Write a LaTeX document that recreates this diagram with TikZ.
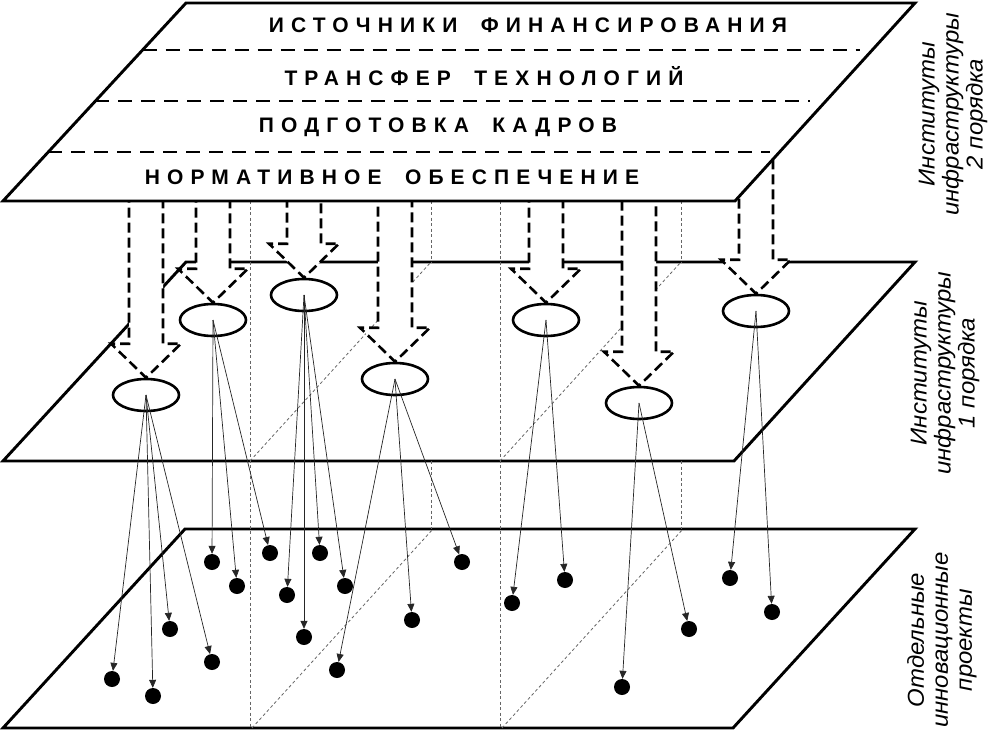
\documentclass[tikz,border=0pt]{standalone}
\usepackage{fontspec}
\setmainfont{Liberation Sans}
\newfontfamily\hdfont[LetterSpace=34,WordSpace=1.8]{Liberation Sans}
\usetikzlibrary{arrows.meta,calc,shapes.geometric}
\tikzset{
  plane/.style={line width=2.9pt, line join=miter},
  sepline/.style={line width=2.8pt, dash pattern=on 14pt off 9pt},
  guide/.style={line width=0.8pt, black!60, dash pattern=on 3pt off 2.5pt},
  bigarrow/.style={fill=white, line width=2.6pt, dash pattern=on 10pt off 5pt, line join=miter},
  inst/.style={ellipse, draw, line width=2.6pt, minimum width=66pt, minimum height=32pt, inner sep=0pt},
  proj/.style={circle, fill=black, minimum size=16pt, inner sep=0pt},
  link/.style={line width=0.7pt, black!85, -{Triangle[length=8pt,width=7pt]}},
  hdtext/.style={font=\hdfont\bfseries\fontsize{21}{24}\selectfont},
  sidetext/.style={rotate=90, xscale=1.04, align=center, font=\itshape\fontsize{23}{24}\selectfont}
}
\newcommand\blockarrow[1]{%
  \draw[bigarrow] ($(#1.north)+(-17,-200)$) -- ($(#1.north)+(-17,-34)$) -- ($(#1.north)+(-35,-34)$)
    -- (#1.north) -- ($(#1.north)+(35,-34)$) -- ($(#1.north)+(17,-34)$) -- ($(#1.north)+(17,-200)$) -- cycle;}
\begin{document}
\begin{tikzpicture}[x=1pt,y=-1pt]
\useasboundingbox (0,0) rectangle (993,733);
% bottom and middle planes
\draw[plane] (185,529) -- (915,529) -- (733,728) -- (3,728) -- cycle;
\draw[plane] (186,262) -- (915,262) -- (734,461) -- (3,461) -- cycle;
% guide slices
\draw[guide] (250,201) -- (250,728);
\draw[guide] (431,201) -- (431,262);
\draw[guide] (431,461) -- (431,529);
\draw[guide] (250,461) -- (431,262);
\draw[guide] (252,728) -- (433,529);
\draw[guide] (500,201) -- (500,728);
\draw[guide] (681,201) -- (681,262);
\draw[guide] (681,461) -- (681,529);
\draw[guide] (500,461) -- (681,262);
\draw[guide] (502,728) -- (683,529);
% institutions of 1st order
\node[inst] (e1) at (146,395) {};
\node[inst] (e2) at (213,320) {};
\node[inst] (e3) at (304,295) {};
\node[inst] (e4) at (395,379) {};
\node[inst] (e5) at (546,320) {};
\node[inst] (e6) at (639,403) {};
\node[inst] (e7) at (756,311) {};
% block arrows
\blockarrow{e1}\blockarrow{e2}\blockarrow{e3}\blockarrow{e4}
\blockarrow{e5}\blockarrow{e6}\blockarrow{e7}
% top plane
\draw[plane, fill=white] (186,3) -- (915,3) -- (735,201) -- (3,201) -- cycle;
\draw[sepline] (142.6,50) -- (860,50);
\draw[sepline] (95.4,101) -- (810,101);
\draw[sepline] (48.3,152) -- (770,152);
\node[hdtext] (t1) at (528,25) {ИСТОЧНИКИ ФИНАНСИРОВАНИЯ};
\node[hdtext] (t2) at (484,76) {ТРАНСФЕР ТЕХНОЛОГИЙ};
\node[hdtext] (t3) at (438,127) {ПОДГОТОВКА КАДРОВ};
\node[hdtext] (t4) at (392,177) {НОРМАТИВНОЕ ОБЕСПЕЧЕНИЕ};
% projects
\node[proj] (d1) at (112,679) {};
\node[proj] (d2) at (153,696) {};
\node[proj] (d3) at (170,629) {};
\node[proj] (d4) at (212,662) {};
\node[proj] (d5) at (212,562) {};
\node[proj] (d6) at (237,586) {};
\node[proj] (d7) at (270,553) {};
\node[proj] (d8) at (320,553) {};
\node[proj] (d9) at (287,595) {};
\node[proj] (d10) at (345,586) {};
\node[proj] (d11) at (304,637) {};
\node[proj] (d12) at (337,670) {};
\node[proj] (d13) at (412,620) {};
\node[proj] (d14) at (462,562) {};
\node[proj] (d15) at (512,603) {};
\node[proj] (d16) at (565,580) {};
\node[proj] (d17) at (622,687) {};
\node[proj] (d18) at (689,629) {};
\node[proj] (d19) at (730,578) {};
\node[proj] (d20) at (772,612) {};
% links
\foreach \d in {d1,d2,d3,d4} \draw[link] (e1.center) -- (\d);
\foreach \d in {d5,d6,d7} \draw[link] (e2.center) -- (\d);
\foreach \d in {d8,d9,d10,d11} \draw[link] (e3.center) -- (\d);
\foreach \d in {d12,d13,d14} \draw[link] (e4.center) -- (\d);
\foreach \d in {d15,d16} \draw[link] (e5.center) -- (\d);
\foreach \d in {d17,d18} \draw[link] (e6.center) -- (\d);
\foreach \d in {d19,d20} \draw[link] (e7.center) -- (\d);
% side labels
\node[sidetext] (l1) at (953,114) {Институты\\инфраструктуры\\2 порядка};
\node[sidetext] (l2) at (945,373) {Институты\\инфраструктуры\\1 порядка};
\node[sidetext] (l3) at (942,640) {Отдельные\\инновационные\\проекты};
\end{tikzpicture}
\end{document}
